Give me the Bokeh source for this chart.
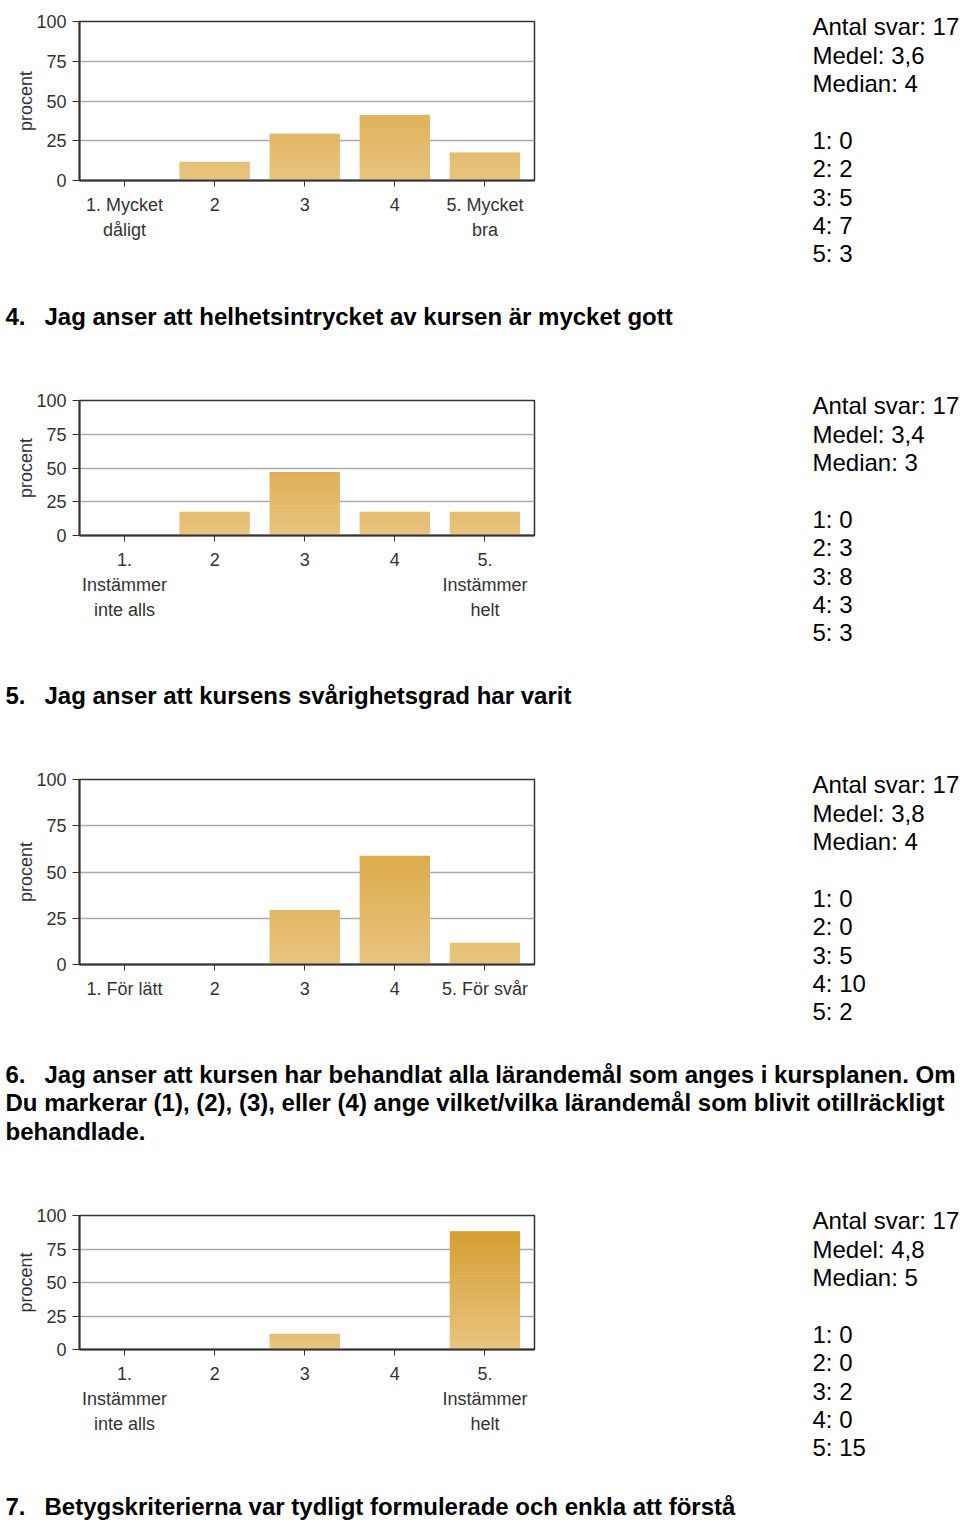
from bokeh.plotting import figure
from bokeh.layouts import column, row
from bokeh.models import Range1d, FixedTicker, ColumnDataSource
from bokeh.core.properties import value
from bokeh.embed import file_html
from bokeh.resources import INLINE

# ---------------- data ----------------
categories = [1, 2, 3, 4, 5]

counts_q3 = [0, 2, 5, 7, 3]
counts_q4 = [0, 3, 8, 3, 3]
counts_q5 = [0, 0, 5, 10, 2]
counts_q6 = [0, 0, 2, 0, 15]

antal = [17, 17, 17, 17]
medel = ["3,6", "3,4", "3,8", "4,8"]
median = [4, 3, 4, 5]

labels_q3 = {1: "1. Mycket\ndåligt", 2: "2", 3: "3", 4: "4", 5: "5. Mycket\nbra"}
labels_q4 = {1: "1.\nInstämmer\ninte alls", 2: "2", 3: "3", 4: "4", 5: "5.\nInstämmer\nhelt"}
labels_q5 = {1: "1. För lätt", 2: "2", 3: "3", 4: "4", 5: "5. För svår"}
labels_q6 = {1: "1.\nInstämmer\ninte alls", 2: "2", 3: "3", 4: "4", 5: "5.\nInstämmer\nhelt"}

title_numbers = ["4.", "5.", "6.", "7."]
title_q4 = ["Jag anser att helhetsintrycket av kursen är mycket gott"]
title_q5 = ["Jag anser att kursens svårighetsgrad har varit"]
title_q6 = ["Jag anser att kursen har behandlat alla lärandemål som anges i kursplanen. Om",
            "Du markerar (1), (2), (3), eller (4) ange vilket/vilka lärandemål som blivit otillräckligt",
            "behandlade."]
title_q7 = ["Betygskriterierna var tydligt formulerade och enkla att förstå"]

# ---------------- style / layout ----------------
FONT_NAME = "Liberation Sans"
FONT = value(FONT_NAME)
BAR_LOW = (232, 196, 128)
BAR_HIGH = (211, 154, 40)
TXT = "#333333"
W = 960
CHART_W = 544
FRAME_L = 79
FRAME_R = 534
STATS_X = 812 - CHART_W
LINE_STEP = 28.4


def grad(v):
    f = max(0.0, min(1.0, v / 100.0))
    r, g, b = (round(lo + (hi - lo) * f) for lo, hi in zip(BAR_LOW, BAR_HIGH))
    return "#%02x%02x%02x" % (r, g, b)


def chart(i, counts, labels, h, top, fh):
    total = antal[i]
    p = figure(width=CHART_W, height=h, x_range=Range1d(0.5, 5.55), y_range=Range1d(0, 100),
               output_backend="svg", toolbar_location=None,
               min_border_left=FRAME_L, min_border_right=CHART_W - FRAME_R, min_border_top=top,
               min_border_bottom=h - top - fh,
               background_fill_color="white", border_fill_color="white")
    xs, bots, tops, cols = [], [], [], []
    for c, n in zip(categories, counts):
        pct = n / total * 100.0
        k = 0.0
        while k < pct:
            t = min(k + 1.5, pct)
            xs.append(c)
            bots.append(k)
            tops.append(t)
            cols.append(grad(k + 0.5))
            k += 1.0
    src = ColumnDataSource(dict(x=xs, bottom=bots, top=tops, color=cols))
    p.vbar(x="x", bottom="bottom", top="top", width=0.78, fill_color="color",
           line_color=None, source=src)

    p.xgrid.visible = False
    p.ygrid.ticker = FixedTicker(ticks=[25, 50, 75])
    p.ygrid.grid_line_color = "#aaaaaa"
    p.ygrid.grid_line_width = 1.5

    p.outline_line_color = "#333333"
    p.outline_line_width = 1.5
    p.outline_line_alpha = 1.0

    ya = p.yaxis[0]
    ya.ticker = FixedTicker(ticks=[0, 25, 50, 75, 100])
    ya.axis_line_color = "#333333"
    ya.axis_line_width = 2
    ya.major_tick_line_color = "#333333"
    ya.major_tick_out = 7
    ya.major_tick_in = 0
    ya.minor_tick_line_color = None
    ya.major_label_text_font = FONT_NAME
    ya.major_label_text_font_size = "18px"
    ya.major_label_text_color = TXT
    ya.major_label_standoff = 6
    ya.axis_label = "procent"
    ya.axis_label_text_font = FONT_NAME
    ya.axis_label_text_font_size = "18px"
    ya.axis_label_text_font_style = "normal"
    ya.axis_label_text_color = TXT
    ya.axis_label_standoff = -3

    xa = p.xaxis[0]
    xa.ticker = FixedTicker(ticks=categories)
    xa.major_label_overrides = labels
    xa.axis_line_color = "#333333"
    xa.axis_line_width = 2
    xa.major_tick_line_color = "#333333"
    xa.major_tick_out = 6
    xa.major_tick_in = 0
    xa.minor_tick_line_color = None
    xa.major_label_text_font = FONT_NAME
    xa.major_label_text_font_size = "18px"
    xa.major_label_text_color = TXT
    xa.major_label_text_line_height = 1.27
    xa.major_label_standoff = 8
    return p


def textfig(w, h, xs, ys, texts, bold):
    p = figure(width=w, height=h, x_range=Range1d(0, w), y_range=Range1d(h, 0),
               output_backend="svg", toolbar_location=None,
               x_axis_type=None, y_axis_type=None, min_border=0,
               outline_line_color=None, background_fill_color="white",
               border_fill_color="white")
    p.grid.visible = False
    src = ColumnDataSource(dict(x=xs, y=ys, text=texts))
    p.text(x="x", y="y", text="text", source=src, text_font=FONT,
           text_font_size="24px", text_font_style="bold" if bold else "normal",
           text_baseline="alphabetic", text_align="left", text_color="black")
    return p


def stats(i, counts, h, first_baseline):
    lines = ["Antal svar: %d" % antal[i], "Medel: %s" % medel[i], "Median: %d" % median[i], ""]
    lines += ["%d: %d" % (c, n) for c, n in zip(categories, counts)]
    ys = [first_baseline + j * LINE_STEP for j in range(len(lines))]
    xs = [STATS_X] * len(lines)
    return textfig(W - CHART_W, h, xs, ys, lines, False)


def block(i, counts, labels, h, top, fh, first_baseline):
    return row(chart(i, counts, labels, h, top, fh),
               column(stats(i, counts, h, first_baseline)))


def title(h, number, lines, baselines):
    xs = [5, 44] + [5] * (len(lines) - 1)
    ys = [baselines[0], baselines[0]] + list(baselines[1:])
    texts = [number, lines[0]] + lines[1:]
    return row(textfig(W, h, xs, ys, texts, True))


blocks = [
    block(0, counts_q3, labels_q3, 280, 21, 159, 26.2),
    title(80, title_numbers[0], title_q4, [35.5]),
    block(1, counts_q4, labels_q4, 300, 40, 135, 45.2),
    title(80, title_numbers[1], title_q5, [34.5]),
    block(2, counts_q5, labels_q5, 300, 39, 185, 44.2),
    title(140, title_numbers[2], title_q6, [33.5, 61.5, 90.5]),
    block(3, counts_q6, labels_q6, 290, 35, 134, 40.2),
    title(53, title_numbers[3], title_q7, [36]),
]

p = column(*blocks)

open("out.html", "w").write(file_html(p, INLINE))
